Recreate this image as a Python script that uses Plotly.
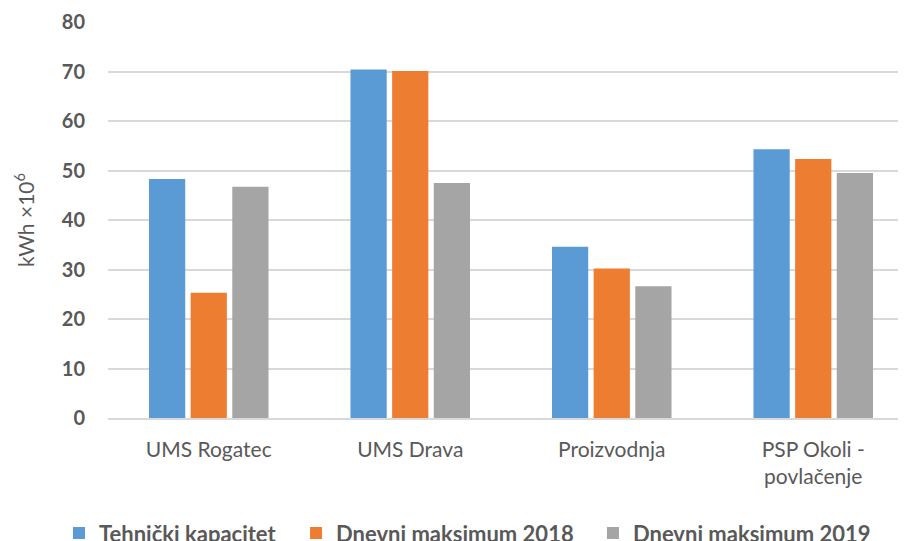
import plotly.graph_objects as go

categories = ["UMS Rogatec", "UMS Drava", "Proizvodnja", "PSP Okoli -<br>povlačenje"]
series_names = ["Tehnički kapacitet", "Dnevni maksimum 2018", "Dnevni maksimum 2019"]
tehnicki = [48.3, 70.4, 34.6, 54.3]
max2018 = [25.3, 70.1, 30.2, 52.3]
max2019 = [46.7, 47.5, 26.6, 49.5]
y_ticks = [0, 10, 20, 30, 40, 50, 60, 70, 80]

colors = ["#5B9BD5", "#ED7D31", "#A5A5A5"]
legend_ids = ["legend", "legend2", "legend3"]
legend_x = [-0.0608, 0.2333, 0.6017]
font_family = "Lato, 'Open Sans', sans-serif"

fig = go.Figure()
for name, vals, c, lg in zip(series_names, [tehnicki, max2018, max2019], colors, legend_ids):
    fig.add_trace(go.Bar(x=categories, y=vals, name=name, legend=lg,
                         marker=dict(color=c, line=dict(width=0))))

legend_font = dict(size=22, color="#595959", family=font_family, weight="bold")
legend_common = dict(orientation="h", xanchor="left", y=-0.238, yanchor="top",
                     font=legend_font, itemwidth=30, bgcolor="rgba(0,0,0,0)")

fig.update_layout(
    width=906, height=541,
    margin=dict(l=100, r=0, t=14, b=131, autoexpand=False),
    paper_bgcolor="white", plot_bgcolor="white",
    barmode="group", bargap=0.38, bargroupgap=0.13,
    font=dict(family=font_family, color="#595959", size=21),
    showlegend=True,
    legend=dict(x=legend_x[0], **legend_common),
    legend2=dict(x=legend_x[1], **legend_common),
    legend3=dict(x=legend_x[2], **legend_common),
    xaxis=dict(
        type="category", range=[-0.5, 3.5], automargin=False,
        showgrid=False, showline=True, linecolor="#D9D9D9", linewidth=1.5,
        ticks="outside", ticklen=12, tickcolor="rgba(0,0,0,0)",
        tickfont=dict(size=21, color="#595959", family=font_family),
    ),
    yaxis=dict(
        range=[0, 80], tickvals=y_ticks, showgrid=True, gridcolor="#D9D9D9", gridwidth=1.5,
        zeroline=False, showline=False, automargin=False,
        ticks="outside", ticklen=18, tickcolor="rgba(0,0,0,0)",
        tickfont=dict(size=20, color="#595959", family=font_family, weight="bold"),
        title=dict(text="kWh ×10<sup>6</sup>", font=dict(size=21, color="#595959", family=font_family), standoff=21),
    ),
)

fig.write_html("out.html")
